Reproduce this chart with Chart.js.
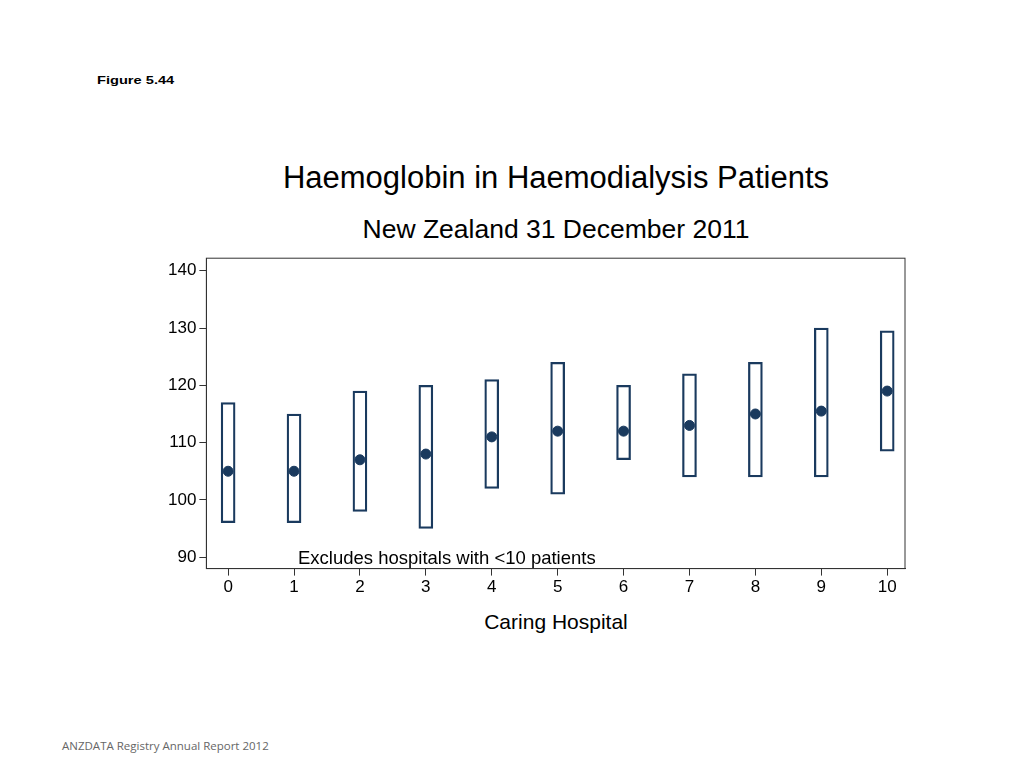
<!DOCTYPE html>
<html>
<head>
<meta charset="utf-8">
<script src="https://cdn.jsdelivr.net/npm/chart.js@4.4.0/dist/chart.umd.min.js"></script>
<style>
  body { margin: 0; background: #fff; font-family: "Liberation Sans", Arial, sans-serif; }
  #page { position: relative; width: 1024px; height: 768px; overflow: hidden; }
  .txt { position: absolute; white-space: nowrap; color: #000; }
  #wrap { position: absolute; left: 140px; top: 245px; width: 790px; height: 400px; }
</style>
</head>
<body>
<div id="page">
  <div class="txt" style="left:97px;top:74px;font-size:11px;font-weight:bold;transform:scaleX(1.33);transform-origin:left;">Figure 5.44</div>
  <div class="txt" style="left:0;width:1112px;text-align:center;top:160px;font-size:31px;">Haemoglobin in Haemodialysis Patients</div>
  <div class="txt" style="left:0;width:1112px;text-align:center;top:214px;font-size:26.5px;">New Zealand 31 December 2011</div>
  <div class="txt" style="left:0;width:1112px;text-align:center;top:610px;font-size:21px;">Caring Hospital</div>
  <div class="txt" style="left:62px;top:738px;font-size:11.5px;color:#666;font-family:'Open Sans',sans-serif;">ANZDATA Registry Annual Report 2012</div>
  <div id="wrap"><canvas id="hbChart"></canvas></div>
</div>
<script>
// Haemoglobin range and median per caring hospital
const hospitalData = [
    { hospital: 0, low: 96, high: 117, median: 105 },
    { hospital: 1, low: 96, high: 115, median: 105 },
    { hospital: 2, low: 98, high: 119, median: 107 },
    { hospital: 3, low: 95, high: 120, median: 108 },
    { hospital: 4, low: 102, high: 121, median: 111 },
    { hospital: 5, low: 101, high: 124, median: 112 },
    { hospital: 6, low: 107, high: 120, median: 112 },
    { hospital: 7, low: 104, high: 122, median: 113 },
    { hospital: 8, low: 104, high: 124, median: 115 },
    { hospital: 9, low: 104, high: 130, median: 115.5 },
    { hospital: 10, low: 108.5, high: 129.5, median: 119 }
];

const navy = '#1a3a5e';

// Frame round the plot area and the footnote inside it
const framePlugin = {
    id: 'frame',
    afterDraw(chart) {
        const a = chart.chartArea, c = chart.ctx;
        c.save();
        c.strokeStyle = '#333';
        c.lineWidth = 1;
        c.strokeRect(a.left, a.top, a.right - a.left, a.bottom - a.top);
        c.fillStyle = '#000';
        c.font = '18.5px "Liberation Sans", Arial, sans-serif';
        c.textBaseline = 'bottom';
        c.fillText('Excludes hospitals with <10 patients', chart.scales.x.getPixelForValue(1.06), a.bottom);
        c.restore();
    }
};

new Chart(document.getElementById('hbChart'), {
    type: 'bar',
    data: {
        datasets: [
            {
                type: 'scatter',
                data: hospitalData.map(d => ({ x: d.hospital, y: d.median })),
                backgroundColor: navy,
                borderColor: navy,
                pointRadius: 5
            },
            {
                data: hospitalData.map(d => ({ x: d.hospital, y: [d.low, d.high] })),
                backgroundColor: 'rgba(0,0,0,0)',
                borderColor: navy,
                borderWidth: 1.6,
                borderSkipped: false,
                barThickness: 14
            }
        ]
    },
    plugins: [framePlugin],
    options: {
        responsive: true,
        maintainAspectRatio: false,
        animation: false,
        layout: { padding: { top: 10, right: 25, bottom: 45, left: 25 } },
        plugins: { legend: { display: false }, tooltip: { enabled: false } },
        scales: {
            x: {
                type: 'linear',
                offset: false,
                min: -0.33, max: 10.27,
                afterBuildTicks: axis => { axis.ticks = [0,1,2,3,4,5,6,7,8,9,10].map(v => ({ value: v })); },
                grid: { display: true, offset: false, drawOnChartArea: false, drawTicks: true, tickLength: 7, tickColor: '#333' },
                border: { color: '#333' },
                ticks: { color: '#000', font: { size: 17, family: '"Liberation Sans", Arial' }, padding: 2 }
            },
            y: {
                min: 88, max: 142.2,
                afterBuildTicks: axis => { axis.ticks = [90,100,110,120,130,140].map(v => ({ value: v })); },
                grid: { display: true, drawOnChartArea: false, drawTicks: true, tickLength: 7, tickColor: '#333' },
                border: { color: '#333' },
                ticks: { color: '#000', font: { size: 17, family: '"Liberation Sans", Arial' }, padding: 3 }
            }
        }
    }
});
</script>
</body>
</html>
